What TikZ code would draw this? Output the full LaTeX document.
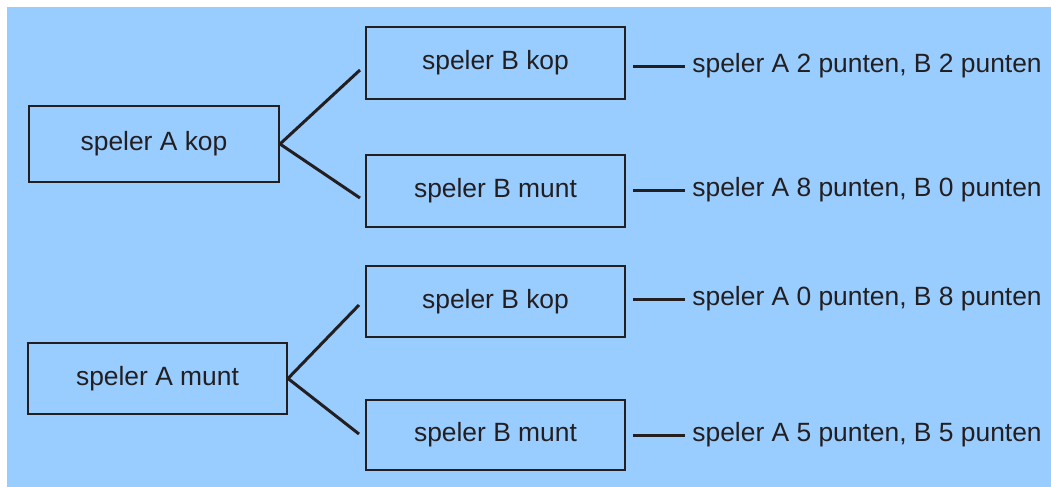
\documentclass[tikz,border=0pt]{standalone}
\usepackage{fontspec}
\setmainfont{Liberation Sans}
\usepackage{xcolor}
\usetikzlibrary{positioning}
\definecolor{achtergrond}{HTML}{99CCFF}
\definecolor{inkt}{HTML}{231F20}

\begin{document}
\begin{tikzpicture}[x=0.5pt, y=-0.5pt,
    vak/.style={draw=inkt, line width=1pt, minimum width=129.5pt, minimum height=36pt,
      inner sep=0pt, font=\fontsize{13.2}{15}\selectfont, text=inkt},
    uitkomst/.style={anchor=west, inner xsep=3.5pt, inner ysep=0pt,
      font=\fontsize{13.2}{15}\selectfont, text=inkt},
    tak/.style={inkt, line width=1.5pt}]
    % 1. Achtergrond en kader
    \useasboundingbox (0,0) rectangle (1051,487);
    \fill[achtergrond] (7,7) rectangle (1051,487);

    % 2. Worp van speler A
    \node[vak, minimum width=125pt, minimum height=38pt] (akop) at (154,144) {speler A kop};
    \node[vak, minimum width=129.5pt, minimum height=35.5pt] (amunt) at (157.5,378.5) {speler A munt};

    % 3. Worp van speler B
    \node[vak] (bkop1) at (495.5,63) {speler B kop};
    \node[vak] (bmunt1) at (495.5,191) {speler B munt};
    \node[vak, minimum height=35.5pt] (bkop2) at (495.5,301.5) {speler B kop};
    \node[vak, minimum height=35pt] (bmunt2) at (495.5,435) {speler B munt};

    % 4. Takken van A naar B
    \draw[tak] (akop.east) -- ([shift={(-2.5pt,-3.5pt)}]bkop1.west);
    \draw[tak] (akop.east) -- ([shift={(-2.5pt,-3.5pt)}]bmunt1.west);
    \draw[tak] (amunt.east) -- ([shift={(-3pt,-1.75pt)}]bkop2.west);
    \draw[tak] (amunt.east) -- ([shift={(-3pt,0.5pt)}]bmunt2.west);

    % 5. Uitkomsten
    \node[uitkomst] (u1) at (685,66) {speler A 2 punten, B 2 punten};
    \node[uitkomst] (u2) at (685,190) {speler A 8 punten, B 0 punten};
    \node[uitkomst] (u3) at (685,299) {speler A 0 punten, B 8 punten};
    \node[uitkomst] (u4) at (685,435) {speler A 5 punten, B 5 punten};

    \draw[tak] ([xshift=3.5pt]bkop1.east |- u1.west) -- (u1.west);
    \draw[tak] ([xshift=3.5pt]bmunt1.east |- u2.west) -- (u2.west);
    \draw[tak] ([xshift=3.5pt]bkop2.east |- u3.west) -- (u3.west);
    \draw[tak] ([xshift=3.5pt]bmunt2.east |- u4.west) -- (u4.west);

\end{tikzpicture}
\end{document}
